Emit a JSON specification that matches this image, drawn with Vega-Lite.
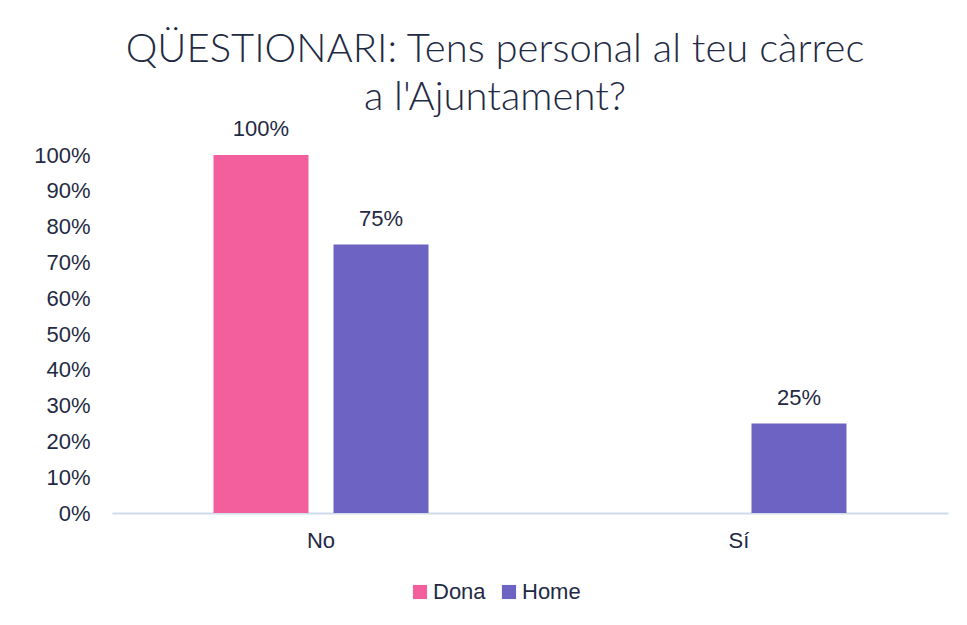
{
  "$schema": "https://vega.github.io/schema/vega-lite/v6.json",
  "width": 836,
  "height": 358,
  "autosize": "none",
  "padding": {"left": 112, "top": 155, "right": 19, "bottom": 112},
  "background": "white",
  "title": {
    "text": ["QÜESTIONARI: Tens personal al teu càrrec", "a l'Ajuntament?"],
    "font": "Lato",
    "fontSize": 40,
    "fontWeight": 300,
    "color": "#1F2A44",
    "lineHeight": 48,
    "anchor": "middle",
    "dx": -35,
    "offset": 0
  },
  "data": {
    "values": [
      {"resposta": "No", "genere": "Dona", "valor": 1.0},
      {"resposta": "No", "genere": "Home", "valor": 0.75},
      {"resposta": "Sí", "genere": "Dona", "valor": 0.0},
      {"resposta": "Sí", "genere": "Home", "valor": 0.25}
    ]
  },
  "encoding": {
    "x": {
      "field": "resposta",
      "type": "nominal",
      "scale": {"paddingInner": 0, "paddingOuter": 0},
      "axis": {
        "title": null,
        "labelAngle": 0,
        "labelFont": "Liberation Sans",
        "labelFontSize": 22,
        "labelColor": "#1F2A44",
        "labelPadding": 17,
        "ticks": false,
        "domainColor": "#D0DCEC",
        "domainWidth": 2
      }
    },
    "xOffset": {
      "field": "genere",
      "type": "nominal",
      "scale": {"paddingInner": 0.2083, "paddingOuter": 0.846}
    },
    "y": {
      "field": "valor",
      "type": "quantitative",
      "scale": {"domain": [0, 1]},
      "axis": {
        "title": null,
        "format": ".0%",
        "values": [0, 0.1, 0.2, 0.3, 0.4, 0.5, 0.6, 0.7, 0.8, 0.9, 1],
        "labelOverlap": false,
        "grid": false,
        "domain": false,
        "ticks": false,
        "labelFont": "Liberation Sans",
        "labelFontSize": 22,
        "labelColor": "#1F2A44",
        "labelPadding": 22
      }
    }
  },
  "layer": [
    {
      "mark": {"type": "bar"},
      "encoding": {
        "color": {
          "field": "genere",
          "type": "nominal",
          "scale": {"domain": ["Dona", "Home"], "range": ["#F25F9C", "#6C63C2"]},
          "legend": {
            "title": null,
            "orient": "none",
            "direction": "horizontal",
            "legendX": 297,
            "legendY": 426,
            "symbolType": "square",
            "symbolSize": 200,
            "symbolOpacity": 1,
            "labelFont": "Liberation Sans",
            "labelFontSize": 22,
            "labelColor": "#1F2A44",
            "labelOffset": 2,
            "columnPadding": 12
          }
        }
      }
    },
    {
      "transform": [{"filter": "datum.valor > 0"}],
      "mark": {
        "type": "text",
        "dy": -26,
        "font": "Liberation Sans",
        "fontSize": 22,
        "color": "#1F2A44"
      },
      "encoding": {
        "text": {"field": "valor", "type": "quantitative", "format": ".0%"}
      }
    }
  ],
  "config": {"view": {"stroke": null}}
}
